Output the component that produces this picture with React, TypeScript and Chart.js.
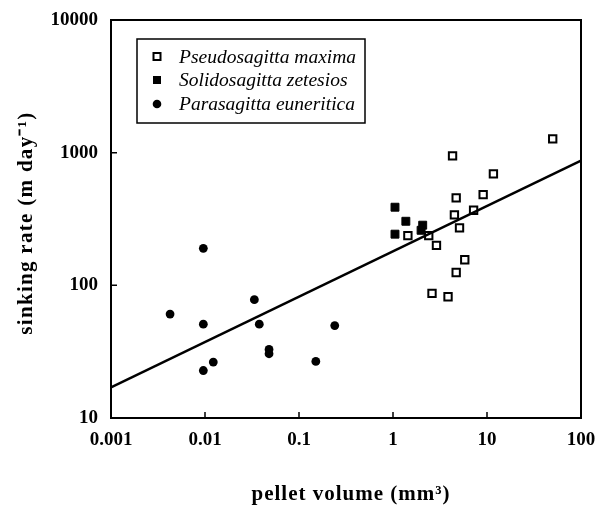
import React, { useEffect, useRef } from 'react';
import { Chart, registerables } from 'chart.js';

Chart.register(...registerables);

const xTicks = [0.001, 0.01, 0.1, 1, 10, 100];
const xTickLabels = ['0.001', '0.01', '0.1', '1', '10', '100'];
const yTicks = [10, 100, 1000, 10000];
const yTickLabels = ['10', '100', '1000', '10000'];

const seriesNames = ['Pseudosagitta maxima', 'Solidosagitta zetesios', 'Parasagitta euneritica'];

const maximaVolume = [50, 4.3, 11.7, 9.1, 4.7, 7.2, 4.5, 5.1, 1.44, 2.4, 2.9, 5.8, 4.7, 2.6, 3.85];
const maximaRate = [1270, 946, 692, 483, 456, 368, 340, 271, 237, 237, 200, 156, 125, 87, 82];

const zetesiosVolume = [1.05, 1.37, 2.07, 1.99, 1.05];
const zetesiosRate = [388, 304, 284, 260, 243];

const euneriticaVolume = [0.0096, 0.00425, 0.0096, 0.0335, 0.0378, 0.048, 0.048, 0.01225, 0.0096, 0.151, 0.24];
const euneriticaRate = [190, 60.7, 51, 78, 51, 32.9, 30.5, 26.4, 22.8, 26.7, 49.7];

const fitVolume = [0.001, 100];
const fitRate = [17, 870];

const toPoints = (xs: number[], ys: number[]) => xs.map((x, i) => ({ x, y: ys[i] }));

const SERIF = "'Liberation Serif', 'Times New Roman', serif";

const framePlugin = {
  id: 'frameAndTitles',
  afterDraw(chart: any) {
    const { ctx, chartArea } = chart;
    const { left, top, right, bottom } = chartArea;
    const xs = chart.scales.x;
    const ys = chart.scales.y;
    ctx.save();
    ctx.strokeStyle = '#000';
    ctx.lineWidth = 2;
    ctx.strokeRect(left, top, right - left, bottom - top);
    // inward tick marks
    ctx.lineWidth = 1.5;
    ctx.beginPath();
    xTicks.forEach((v) => {
      const px = xs.getPixelForValue(v);
      ctx.moveTo(px, bottom);
      ctx.lineTo(px, bottom - 6);
    });
    yTicks.forEach((v) => {
      const py = ys.getPixelForValue(v);
      ctx.moveTo(left, py);
      ctx.lineTo(left + 6, py);
    });
    ctx.stroke();

    // axis titles
    ctx.fillStyle = '#000';
    ctx.font = `bold 21px ${SERIF}`;
    if ('letterSpacing' in ctx) (ctx as any).letterSpacing = '1px';
    ctx.textAlign = 'center';
    ctx.textBaseline = 'middle';
    ctx.fillText('pellet volume (mm\u00B3)', 351, 495);
    ctx.save();
    ctx.translate(27, 223);
    ctx.rotate(-Math.PI / 2);
    if ('letterSpacing' in ctx) (ctx as any).letterSpacing = '1.3px';
    ctx.fillText('sinking rate (m day\u207B\u00B9)', 0, 0);
    ctx.restore();
    if ('letterSpacing' in ctx) (ctx as any).letterSpacing = '0px';

    // legend
    const lx = left + 26;
    const ly = top + 19;
    const lw = 228;
    const lh = 84;
    ctx.lineWidth = 1.5;
    ctx.strokeRect(lx, ly, lw, lh);
    const rows = [ly + 17.5, ly + 41, ly + 65];
    const mx = lx + 20;
    // open square
    ctx.lineWidth = 2;
    ctx.fillStyle = '#fff';
    ctx.fillRect(mx - 3.5, rows[0] - 3.5, 7, 7);
    ctx.strokeRect(mx - 3.5, rows[0] - 3.5, 7, 7);
    // filled square
    ctx.fillStyle = '#000';
    ctx.fillRect(mx - 4, rows[1] - 4, 8, 8);
    // filled circle
    ctx.beginPath();
    ctx.arc(mx, rows[2], 4.3, 0, Math.PI * 2);
    ctx.fill();
    ctx.font = `italic 19.5px ${SERIF}`;
    ctx.textAlign = 'left';
    ctx.textBaseline = 'middle';
    seriesNames.forEach((name, i) => {
      ctx.fillText(name, lx + 42, rows[i] + 1);
    });
    ctx.restore();
  },
};

export default function App() {
  const canvasRef = useRef<HTMLCanvasElement | null>(null);

  useEffect(() => {
    document.body.style.margin = '0';
    const canvas = canvasRef.current;
    if (!canvas) return;
    const chart = new Chart(canvas, {
      type: 'scatter',
      data: {
        datasets: [
          {
            label: 'fit',
            data: toPoints(fitVolume, fitRate),
            showLine: true,
            borderColor: '#000',
            borderWidth: 2.5,
            pointRadius: 0,
            fill: false,
          } as any,
          {
            label: seriesNames[0],
            data: toPoints(maximaVolume, maximaRate),
            pointStyle: 'rect',
            pointRadius: 5.2,
            backgroundColor: '#fff',
            borderColor: '#000',
            borderWidth: 2,
          },
          {
            label: seriesNames[1],
            data: toPoints(zetesiosVolume, zetesiosRate),
            pointStyle: 'rect',
            pointRadius: 5.6,
            backgroundColor: '#000',
            borderColor: '#000',
            borderWidth: 1,
          },
          {
            label: seriesNames[2],
            data: toPoints(euneriticaVolume, euneriticaRate),
            pointStyle: 'circle',
            pointRadius: 4.4,
            backgroundColor: '#000',
            borderColor: '#000',
            borderWidth: 0,
          },
        ],
      },
      options: {
        responsive: false,
        animation: false,
        events: [],
        layout: { padding: { top: 20, right: 14, left: 0, bottom: 0 } },
        plugins: {
          legend: { display: false },
          tooltip: { enabled: false },
        },
        scales: {
          x: {
            type: 'logarithmic',
            min: 0.001,
            max: 100,
            grid: { display: false, drawTicks: false },
            border: { display: false },
            afterBuildTicks: (scale: any) => {
              scale.ticks = xTicks.map((v) => ({ value: v }));
            },
            afterFit: (scale: any) => {
              scale.height = 88;
              scale.paddingLeft = 0;
              scale.paddingRight = 0;
            },
            ticks: {
              color: '#000',
              padding: 11,
              maxRotation: 0,
              autoSkip: false,
              font: { family: SERIF, size: 19, weight: 'bold' },
              callback: (v: any) => {
                const i = xTicks.findIndex((t) => Math.abs(t - Number(v)) / t < 1e-6);
                return i >= 0 ? xTickLabels[i] : '';
              },
            },
          },
          y: {
            type: 'logarithmic',
            min: 10,
            max: 10000,
            grid: { display: false, drawTicks: false },
            border: { display: false },
            afterBuildTicks: (scale: any) => {
              scale.ticks = yTicks.map((v) => ({ value: v }));
            },
            afterFit: (scale: any) => {
              scale.width = 111;
              scale.paddingTop = 0;
              scale.paddingBottom = 0;
            },
            ticks: {
              color: '#000',
              padding: 13,
              autoSkip: false,
              font: { family: SERIF, size: 19, weight: 'bold' },
              callback: (v: any) => {
                const i = yTicks.findIndex((t) => Math.abs(t - Number(v)) / t < 1e-6);
                return i >= 0 ? yTickLabels[i] : '';
              },
            },
          },
        },
      },
      plugins: [framePlugin],
    } as any);
    return () => chart.destroy();
  }, []);

  return (
    <div style={{ width: 595, height: 506, background: '#fff' }}>
      <canvas ref={canvasRef} width={595} height={506} />
    </div>
  );
}
